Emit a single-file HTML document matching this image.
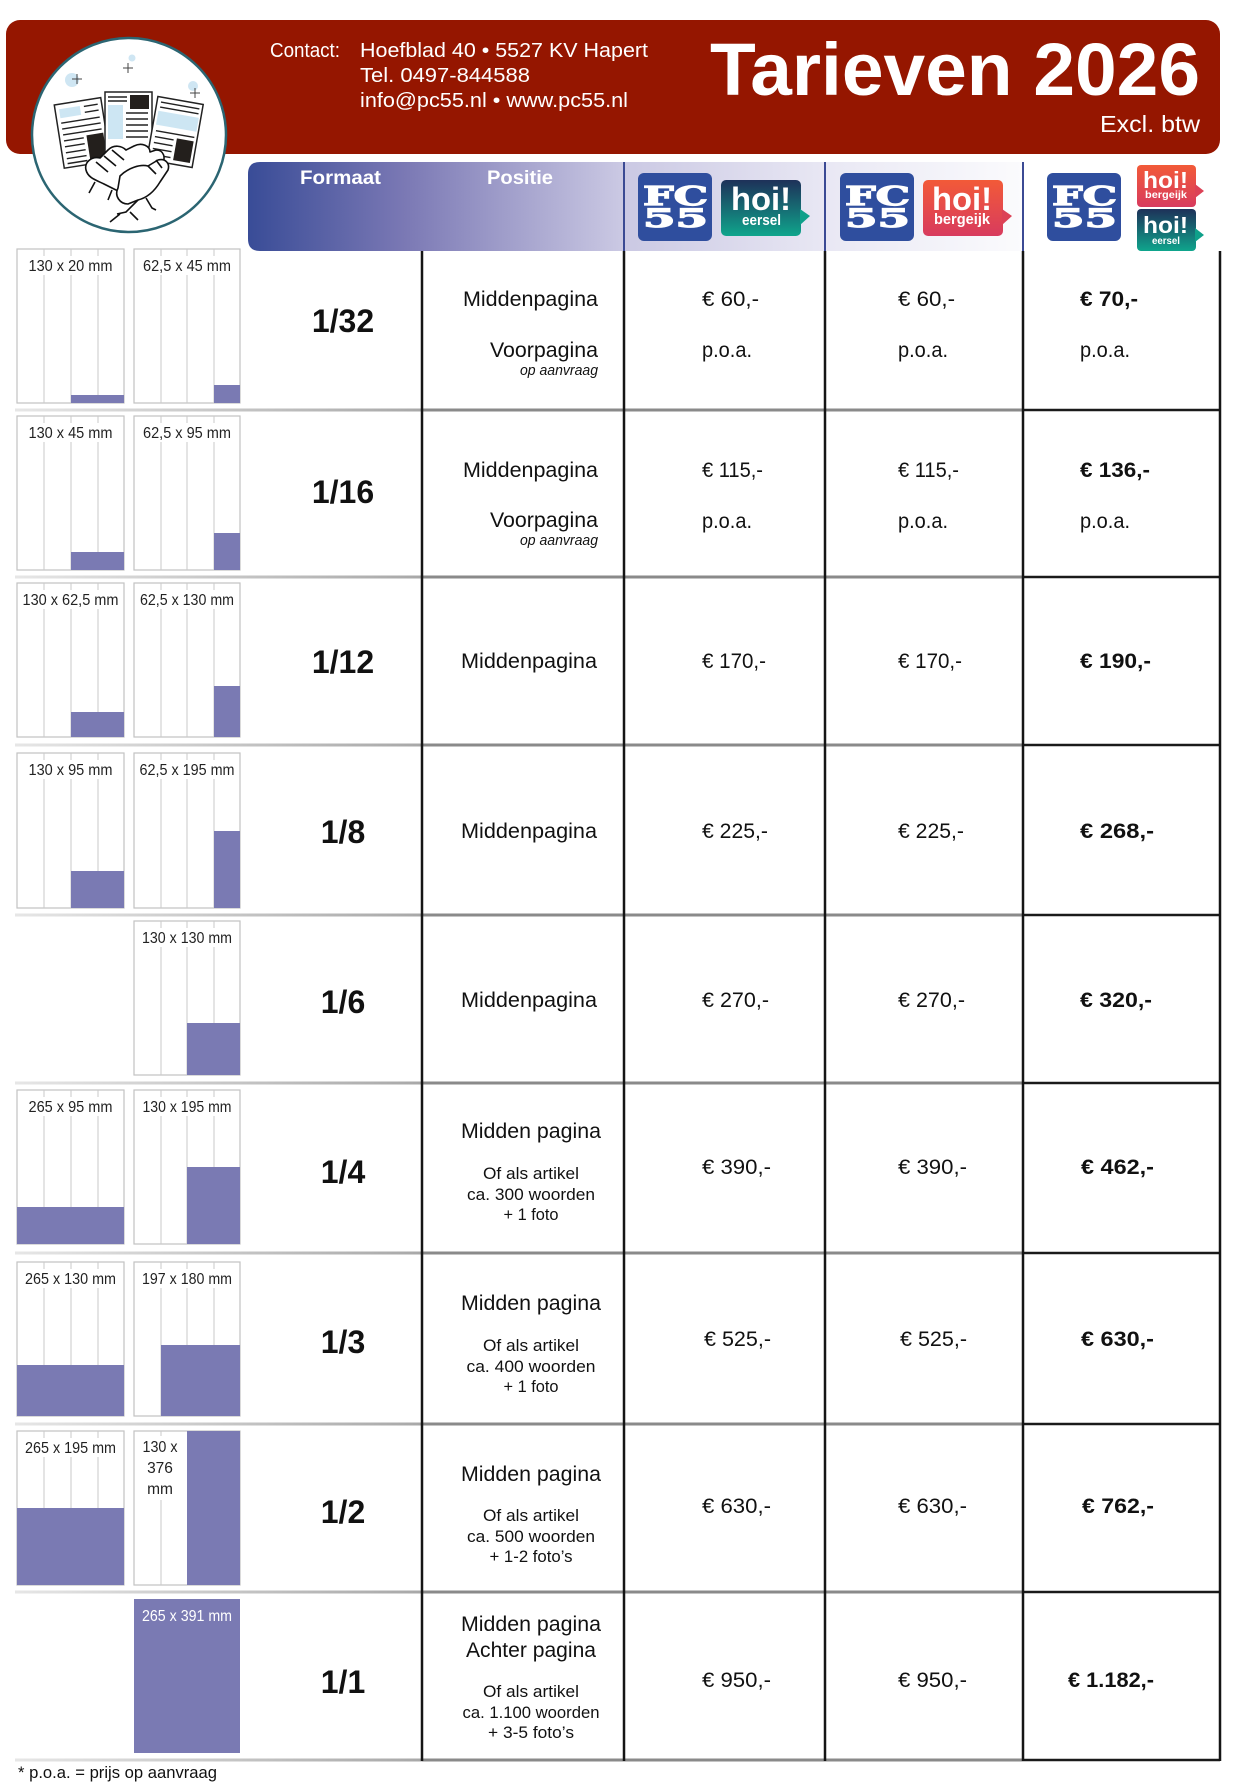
<!DOCTYPE html>
<html><head><meta charset="utf-8"><title>Tarieven 2026</title>
<style>
html,body{margin:0;padding:0;background:#fff;}
svg{display:block;}
text{font-family:"Liberation Sans",Arial,sans-serif;}
.fc{font-family:"DejaVu Serif","Liberation Serif",serif;font-weight:bold;fill:#fff;stroke:#fff;stroke-width:1.2;}
</style></head>
<body>
<svg width="1250" height="1786" viewBox="0 0 1250 1786" xmlns="http://www.w3.org/2000/svg">
<defs>
  <linearGradient id="hdr" gradientUnits="userSpaceOnUse" x1="248" y1="0" x2="1023" y2="0">
    <stop offset="0" stop-color="#394c97"/>
    <stop offset="0.2" stop-color="#7a78b4"/>
    <stop offset="0.48" stop-color="#cac8e3"/>
    <stop offset="0.75" stop-color="#e9e8f4"/>
    <stop offset="1" stop-color="#fbfbfd"/>
  </linearGradient>
  <linearGradient id="hl" gradientUnits="userSpaceOnUse" x1="15" y1="0" x2="422" y2="0">
    <stop offset="0" stop-color="#e6e6e6"/>
    <stop offset="1" stop-color="#a8a8a8"/>
  </linearGradient>
  <linearGradient id="teal" x1="0" y1="0" x2="0" y2="1">
    <stop offset="0" stop-color="#1e3159"/>
    <stop offset="1" stop-color="#0fa58c"/>
  </linearGradient>
  <linearGradient id="red" x1="0" y1="0" x2="0" y2="1">
    <stop offset="0" stop-color="#f25a38"/>
    <stop offset="1" stop-color="#d83b5e"/>
  </linearGradient>
</defs>

<!-- Red banner -->
<rect x="6" y="20" width="1214" height="134" rx="14" fill="#951600"/>
<text x="270" y="57" font-size="20" fill="#fff" textLength="70" lengthAdjust="spacingAndGlyphs">Contact:</text>
<text x="360" y="57" font-size="20" fill="#fff" textLength="288" lengthAdjust="spacingAndGlyphs">Hoefblad 40 • 5527 KV  Hapert</text>
<text x="360" y="82" font-size="20" fill="#fff" textLength="170" lengthAdjust="spacingAndGlyphs">Tel. 0497-844588</text>
<text x="360" y="107" font-size="20" fill="#fff" textLength="268" lengthAdjust="spacingAndGlyphs">info@pc55.nl • www.pc55.nl</text>
<text x="710" y="95" font-size="74" font-weight="bold" fill="#fff" textLength="490" lengthAdjust="spacingAndGlyphs">Tarieven 2026</text>
<text x="1100" y="132" font-size="23" fill="#fff" textLength="100" lengthAdjust="spacingAndGlyphs">Excl. btw</text>

<!-- Circle logo -->
<circle cx="129" cy="135" r="97" fill="#fff" stroke="#2b6572" stroke-width="2.5"/>
<circle cx="72" cy="80" r="7" fill="#cfe6f3"/>
<circle cx="132" cy="58" r="3.5" fill="#cfe6f3"/>
<circle cx="193" cy="86" r="5" fill="#cfe6f3"/>
<g stroke="#444" stroke-width="1">
  <path d="M77,74 V84 M72,79 H82"/>
  <path d="M128,63 V73 M123,68 H133"/>
  <path d="M195,88 V98 M190,93 H200"/>
</g>
<g transform="rotate(-9 82 133)">
  <rect x="59" y="101" width="47" height="64" fill="#fff" stroke="#222" stroke-width="1.5"/>
  <rect x="63" y="106" width="21" height="9" fill="#cde6f3"/>
  <g stroke="#222" stroke-width="1.4">
    <path d="M88,107 H102 M88,113 H102 M63,120 H102 M63,126 H102 M63,132 H102 M63,138 H83 M63,144 H83 M63,150 H83 M63,156 H83 M63,161 H83"/>
  </g>
  <rect x="86" y="136" width="17" height="25" fill="#231f1c"/>
</g>
<rect x="105" y="92" width="47" height="60" fill="#fff" stroke="#222" stroke-width="1.5"/>
<rect x="130" y="95" width="19" height="14" fill="#231f1c"/>
<rect x="108" y="105" width="15" height="34" fill="#cde6f3"/>
<g stroke="#222" stroke-width="1.4">
  <path d="M108,97 H127 M108,101 H127 M126,113 H148 M126,119 H148 M126,125 H148 M126,131 H148 M126,137 H148"/>
</g>
<g transform="rotate(10 175 132)">
  <rect x="152" y="100" width="46" height="64" fill="#fff" stroke="#222" stroke-width="1.5"/>
  <rect x="155" y="114" width="41" height="14" fill="#cde6f3"/>
  <g stroke="#222" stroke-width="1.4">
    <path d="M156,105 H195 M156,110 H195 M156,134 H195 M156,140 H175 M156,146 H175 M156,152 H175 M156,158 H175"/>
  </g>
  <rect x="178" y="138" width="17" height="22" fill="#231f1c"/>
</g>
<!-- hands -->
<g fill="#fff" stroke="#111" stroke-width="1.6" stroke-linejoin="round">
  <path d="M86,170 C84,162 92,156 100,158 L108,150 C114,144 122,146 126,150 L134,146 C142,142 150,146 150,152 L156,150 C164,150 166,158 162,164 L150,180 C142,190 128,194 116,190 L104,184 C96,180 88,178 86,170 Z"/>
  <path d="M120,176 C128,168 140,164 148,166 L158,160 C166,158 170,164 168,170 L160,182 C154,192 146,198 138,200 L128,204 C120,204 114,196 118,188 Z"/>
  <path d="M96,162 L108,172 M104,156 L116,166 M112,150 L124,160"/>
  <path d="M148,166 L156,174 M156,160 L162,168"/>
</g>
<g stroke="#111" stroke-width="1.6" fill="none">
  <path d="M95,182 L89,193 M112,190 L108,200"/>
  <path d="M138,200 L126,212 L117,214 M146,198 L152,208 L156,210 M130,212 L138,220 M120,214 L110,222"/>
</g>

<!-- Header gradient bar -->
<path d="M260,162 H1023 V251 H260 Q248,251 248,239 V174 Q248,162 260,162 Z" fill="url(#hdr)"/>
<text x="300" y="184" font-size="19" font-weight="bold" fill="#fff" textLength="81" lengthAdjust="spacingAndGlyphs">Formaat</text>
<text x="487" y="184" font-size="19" font-weight="bold" fill="#fff" textLength="66" lengthAdjust="spacingAndGlyphs">Positie</text>
<g stroke="#3b4a94" stroke-width="2">
  <line x1="624" y1="162" x2="624" y2="251"/>
  <line x1="825" y1="162" x2="825" y2="251"/>
  <line x1="1023" y1="162" x2="1023" y2="251"/>
</g>

<!-- Logos col1 -->
<rect x="638" y="173" width="74" height="68" rx="6" fill="#2f4e9e"/>
<text class="fc" x="643" y="205" font-size="26" textLength="65" lengthAdjust="spacingAndGlyphs">FC</text>
<text class="fc" x="643" y="227" font-size="25" textLength="65" lengthAdjust="spacingAndGlyphs">55</text>
<rect x="721" y="180" width="80" height="56" rx="5" fill="url(#teal)"/>
<path d="M800,209 L810,216 L800,225 Z" fill="#0fa08a"/>
<text x="731" y="210" font-size="32" font-weight="bold" fill="#fff" textLength="60" lengthAdjust="spacingAndGlyphs">hoi!</text>
<text x="761.5" y="225" font-size="15" font-weight="bold" fill="#fff" text-anchor="middle" textLength="39" lengthAdjust="spacingAndGlyphs">eersel</text>

<!-- Logos col2 -->
<rect x="840" y="173" width="74" height="68" rx="6" fill="#2f4e9e"/>
<text class="fc" x="845" y="205" font-size="26" textLength="65" lengthAdjust="spacingAndGlyphs">FC</text>
<text class="fc" x="845" y="227" font-size="25" textLength="65" lengthAdjust="spacingAndGlyphs">55</text>
<rect x="923" y="180" width="80" height="56" rx="5" fill="url(#red)"/>
<path d="M1002,209 L1012,216 L1002,225 Z" fill="#dc4256"/>
<text x="932" y="210" font-size="32" font-weight="bold" fill="#fff" textLength="60" lengthAdjust="spacingAndGlyphs">hoi!</text>
<text x="962" y="224" font-size="15" font-weight="bold" fill="#fff" text-anchor="middle" textLength="56" lengthAdjust="spacingAndGlyphs">bergeijk</text>

<!-- Logos col3 -->
<rect x="1047" y="173" width="74" height="68" rx="6" fill="#2f4e9e"/>
<text class="fc" x="1052" y="205" font-size="26" textLength="65" lengthAdjust="spacingAndGlyphs">FC</text>
<text class="fc" x="1052" y="227" font-size="25" textLength="65" lengthAdjust="spacingAndGlyphs">55</text>
<rect x="1137" y="165" width="59" height="42" rx="4" fill="url(#red)"/>
<path d="M1195,184 L1204,191 L1195,198 Z" fill="#dc4256"/>
<text x="1143" y="188" font-size="23" font-weight="bold" fill="#fff" textLength="45" lengthAdjust="spacingAndGlyphs">hoi!</text>
<text x="1166" y="198" font-size="10" font-weight="bold" fill="#fff" text-anchor="middle" textLength="42" lengthAdjust="spacingAndGlyphs">bergeijk</text>
<rect x="1137" y="209" width="59" height="42" rx="4" fill="url(#teal)"/>
<path d="M1195,228 L1204,235 L1195,242 Z" fill="#0fa08a"/>
<text x="1143" y="233" font-size="23" font-weight="bold" fill="#fff" textLength="45" lengthAdjust="spacingAndGlyphs">hoi!</text>
<text x="1166" y="244" font-size="10" font-weight="bold" fill="#fff" text-anchor="middle" textLength="28" lengthAdjust="spacingAndGlyphs">eersel</text>

<!-- Horizontal row lines -->
<g stroke-width="3">
  <g stroke="url(#hl)">
    <line x1="15" y1="410" x2="422" y2="410"/><line x1="15" y1="577" x2="422" y2="577"/>
    <line x1="15" y1="745" x2="422" y2="745"/><line x1="15" y1="915" x2="422" y2="915"/>
    <line x1="15" y1="1083" x2="422" y2="1083"/><line x1="15" y1="1253" x2="422" y2="1253"/>
    <line x1="15" y1="1424" x2="422" y2="1424"/><line x1="15" y1="1592" x2="422" y2="1592"/>
    <line x1="15" y1="1760" x2="422" y2="1760"/>
  </g>
  <g stroke="#8a8a8a">
    <line x1="422" y1="410" x2="1023" y2="410"/><line x1="422" y1="577" x2="1023" y2="577"/>
    <line x1="422" y1="745" x2="1023" y2="745"/><line x1="422" y1="915" x2="1023" y2="915"/>
    <line x1="422" y1="1083" x2="1023" y2="1083"/><line x1="422" y1="1253" x2="1023" y2="1253"/>
    <line x1="422" y1="1424" x2="1023" y2="1424"/><line x1="422" y1="1592" x2="1023" y2="1592"/>
    <line x1="422" y1="1760" x2="1023" y2="1760"/>
  </g>
  <g stroke="#1a1a1a" stroke-width="2.5">
    <line x1="1023" y1="410" x2="1220" y2="410"/><line x1="1023" y1="577" x2="1220" y2="577"/>
    <line x1="1023" y1="745" x2="1220" y2="745"/><line x1="1023" y1="915" x2="1220" y2="915"/>
    <line x1="1023" y1="1083" x2="1220" y2="1083"/><line x1="1023" y1="1253" x2="1220" y2="1253"/>
    <line x1="1023" y1="1424" x2="1220" y2="1424"/><line x1="1023" y1="1592" x2="1220" y2="1592"/>
    <line x1="1023" y1="1760" x2="1220" y2="1760"/>
  </g>
</g>
<!-- Vertical lines -->
<g stroke="#151515" stroke-width="2.5">
  <line x1="422" y1="251" x2="422" y2="1761"/>
  <line x1="624" y1="251" x2="624" y2="1761"/>
  <line x1="825" y1="251" x2="825" y2="1761"/>
  <line x1="1023" y1="251" x2="1023" y2="1761"/>
  <line x1="1220" y1="251" x2="1220" y2="1761"/>
</g>

<!-- Thumbnails -->
<g id="thumbs">
<!-- R1 -->
<rect x="17" y="249" width="107" height="154" fill="#fff" stroke="#c2c2c2" stroke-width="1.2"/>
<path d="M44,249 V403 M71,249 V403 M98,249 V403" stroke="#cacaca" stroke-width="1"/>
<rect x="71" y="395" width="53" height="8" fill="#7a7ab3"/>
<rect x="26" y="256" width="89" height="19" fill="#fff"/>
<text x="70.5" y="271" font-size="15.5" fill="#222" text-anchor="middle" textLength="84" lengthAdjust="spacingAndGlyphs">130 x 20 mm</text>
<rect x="134" y="249" width="106" height="154" fill="#fff" stroke="#c2c2c2" stroke-width="1.2"/>
<path d="M161,249 V403 M187,249 V403 M214,249 V403" stroke="#cacaca" stroke-width="1"/>
<rect x="214" y="385" width="26" height="18" fill="#7a7ab3"/>
<rect x="141" y="256" width="93" height="19" fill="#fff"/>
<text x="187" y="271" font-size="15.5" fill="#222" text-anchor="middle" textLength="88" lengthAdjust="spacingAndGlyphs">62,5 x 45 mm</text>
<!-- R2 -->
<rect x="17" y="416" width="107" height="154" fill="#fff" stroke="#c2c2c2" stroke-width="1.2"/>
<path d="M44,416 V570 M71,416 V570 M98,416 V570" stroke="#cacaca" stroke-width="1"/>
<rect x="71" y="552" width="53" height="18" fill="#7a7ab3"/>
<rect x="26" y="423" width="89" height="19" fill="#fff"/>
<text x="70.5" y="438" font-size="15.5" fill="#222" text-anchor="middle" textLength="84" lengthAdjust="spacingAndGlyphs">130 x 45 mm</text>
<rect x="134" y="416" width="106" height="154" fill="#fff" stroke="#c2c2c2" stroke-width="1.2"/>
<path d="M161,416 V570 M187,416 V570 M214,416 V570" stroke="#cacaca" stroke-width="1"/>
<rect x="214" y="533" width="26" height="37" fill="#7a7ab3"/>
<rect x="141" y="423" width="93" height="19" fill="#fff"/>
<text x="187" y="438" font-size="15.5" fill="#222" text-anchor="middle" textLength="88" lengthAdjust="spacingAndGlyphs">62,5 x 95 mm</text>
<!-- R3 -->
<rect x="17" y="583" width="107" height="154" fill="#fff" stroke="#c2c2c2" stroke-width="1.2"/>
<path d="M44,583 V737 M71,583 V737 M98,583 V737" stroke="#cacaca" stroke-width="1"/>
<rect x="71" y="712" width="53" height="25" fill="#7a7ab3"/>
<rect x="21" y="590" width="99" height="19" fill="#fff"/>
<text x="70.5" y="605" font-size="15.5" fill="#222" text-anchor="middle" textLength="96" lengthAdjust="spacingAndGlyphs">130 x 62,5 mm</text>
<rect x="134" y="583" width="106" height="154" fill="#fff" stroke="#c2c2c2" stroke-width="1.2"/>
<path d="M161,583 V737 M187,583 V737 M214,583 V737" stroke="#cacaca" stroke-width="1"/>
<rect x="214" y="686" width="26" height="51" fill="#7a7ab3"/>
<rect x="138" y="590" width="98" height="19" fill="#fff"/>
<text x="187" y="605" font-size="15.5" fill="#222" text-anchor="middle" textLength="94" lengthAdjust="spacingAndGlyphs">62,5 x 130 mm</text>
<!-- R4 -->
<rect x="17" y="753" width="107" height="155" fill="#fff" stroke="#c2c2c2" stroke-width="1.2"/>
<path d="M44,753 V908 M71,753 V908 M98,753 V908" stroke="#cacaca" stroke-width="1"/>
<rect x="71" y="871" width="53" height="37" fill="#7a7ab3"/>
<rect x="26" y="760" width="89" height="19" fill="#fff"/>
<text x="70.5" y="775" font-size="15.5" fill="#222" text-anchor="middle" textLength="84" lengthAdjust="spacingAndGlyphs">130 x 95 mm</text>
<rect x="134" y="753" width="106" height="155" fill="#fff" stroke="#c2c2c2" stroke-width="1.2"/>
<path d="M161,753 V908 M187,753 V908 M214,753 V908" stroke="#cacaca" stroke-width="1"/>
<rect x="214" y="831" width="26" height="77" fill="#7a7ab3"/>
<rect x="138" y="760" width="98" height="19" fill="#fff"/>
<text x="187" y="775" font-size="15.5" fill="#222" text-anchor="middle" textLength="95" lengthAdjust="spacingAndGlyphs">62,5 x 195 mm</text>
<!-- R5 -->
<rect x="134" y="921" width="106" height="154" fill="#fff" stroke="#c2c2c2" stroke-width="1.2"/>
<path d="M161,921 V1075 M187,921 V1075 M214,921 V1075" stroke="#cacaca" stroke-width="1"/>
<rect x="187" y="1023" width="53" height="52" fill="#7a7ab3"/>
<rect x="140" y="928" width="94" height="19" fill="#fff"/>
<text x="187" y="943" font-size="15.5" fill="#222" text-anchor="middle" textLength="90" lengthAdjust="spacingAndGlyphs">130 x 130 mm</text>
<!-- R6 -->
<rect x="17" y="1090" width="107" height="154" fill="#fff" stroke="#c2c2c2" stroke-width="1.2"/>
<path d="M44,1090 V1244 M71,1090 V1244 M98,1090 V1244" stroke="#cacaca" stroke-width="1"/>
<rect x="17" y="1207" width="107" height="37" fill="#7a7ab3"/>
<rect x="26" y="1097" width="89" height="19" fill="#fff"/>
<text x="70.5" y="1112" font-size="15.5" fill="#222" text-anchor="middle" textLength="84" lengthAdjust="spacingAndGlyphs">265 x 95 mm</text>
<rect x="134" y="1090" width="106" height="154" fill="#fff" stroke="#c2c2c2" stroke-width="1.2"/>
<path d="M161,1090 V1244 M187,1090 V1244 M214,1090 V1244" stroke="#cacaca" stroke-width="1"/>
<rect x="187" y="1167" width="53" height="77" fill="#7a7ab3"/>
<rect x="140" y="1097" width="94" height="19" fill="#fff"/>
<text x="187" y="1112" font-size="15.5" fill="#222" text-anchor="middle" textLength="89" lengthAdjust="spacingAndGlyphs">130 x 195 mm</text>
<!-- R7 -->
<rect x="17" y="1262" width="107" height="154" fill="#fff" stroke="#c2c2c2" stroke-width="1.2"/>
<path d="M44,1262 V1416 M71,1262 V1416 M98,1262 V1416" stroke="#cacaca" stroke-width="1"/>
<rect x="17" y="1365" width="107" height="51" fill="#7a7ab3"/>
<rect x="23" y="1269" width="95" height="19" fill="#fff"/>
<text x="70.5" y="1284" font-size="15.5" fill="#222" text-anchor="middle" textLength="91" lengthAdjust="spacingAndGlyphs">265 x 130 mm</text>
<rect x="134" y="1262" width="106" height="154" fill="#fff" stroke="#c2c2c2" stroke-width="1.2"/>
<path d="M161,1262 V1416 M187,1262 V1416 M214,1262 V1416" stroke="#cacaca" stroke-width="1"/>
<rect x="161" y="1345" width="79" height="71" fill="#7a7ab3"/>
<rect x="140" y="1269" width="94" height="19" fill="#fff"/>
<text x="187" y="1284" font-size="15.5" fill="#222" text-anchor="middle" textLength="90" lengthAdjust="spacingAndGlyphs">197 x 180 mm</text>
<!-- R8 -->
<rect x="17" y="1431" width="107" height="154" fill="#fff" stroke="#c2c2c2" stroke-width="1.2"/>
<path d="M44,1431 V1585 M71,1431 V1585 M98,1431 V1585" stroke="#cacaca" stroke-width="1"/>
<rect x="17" y="1508" width="107" height="77" fill="#7a7ab3"/>
<rect x="23" y="1438" width="95" height="19" fill="#fff"/>
<text x="70.5" y="1453" font-size="15.5" fill="#222" text-anchor="middle" textLength="91" lengthAdjust="spacingAndGlyphs">265 x 195 mm</text>
<rect x="134" y="1431" width="106" height="154" fill="#fff" stroke="#c2c2c2" stroke-width="1.2"/>
<path d="M161,1431 V1585" stroke="#cacaca" stroke-width="1"/>
<rect x="187" y="1431" width="53" height="154" fill="#7a7ab3"/>
<rect x="138" y="1436" width="45" height="64" fill="#fff"/>
<text x="160" y="1452" font-size="15.5" fill="#222" text-anchor="middle" textLength="35" lengthAdjust="spacingAndGlyphs">130 x</text>
<text x="160" y="1473" font-size="15.5" fill="#222" text-anchor="middle">376</text>
<text x="160" y="1494" font-size="15.5" fill="#222" text-anchor="middle">mm</text>
<!-- R9 -->
<rect x="134" y="1599" width="106" height="154" fill="#7a7ab3"/>
<text x="187" y="1621" font-size="15.5" fill="#fff" text-anchor="middle" textLength="90" lengthAdjust="spacingAndGlyphs">265 x 391 mm</text>
</g>

<!-- Fractions -->
<g font-size="32" font-weight="bold" fill="#111" text-anchor="middle">
  <text x="343" y="332">1/32</text>
  <text x="343" y="503">1/16</text>
  <text x="343" y="673">1/12</text>
  <text x="343" y="843">1/8</text>
  <text x="343" y="1013">1/6</text>
  <text x="343" y="1183">1/4</text>
  <text x="343" y="1353">1/3</text>
  <text x="343" y="1523">1/2</text>
  <text x="343" y="1693">1/1</text>
</g>

<!-- Position column -->
<g font-size="21" fill="#111">
  <text x="598" y="306" text-anchor="end" textLength="135" lengthAdjust="spacingAndGlyphs">Middenpagina</text>
  <text x="598" y="357" text-anchor="end" textLength="108" lengthAdjust="spacingAndGlyphs">Voorpagina</text>
  <text x="598" y="375" text-anchor="end" font-size="15" font-style="italic" textLength="78" lengthAdjust="spacingAndGlyphs">op aanvraag</text>
  <text x="598" y="477" text-anchor="end" textLength="135" lengthAdjust="spacingAndGlyphs">Middenpagina</text>
  <text x="598" y="527" text-anchor="end" textLength="108" lengthAdjust="spacingAndGlyphs">Voorpagina</text>
  <text x="598" y="545" text-anchor="end" font-size="15" font-style="italic" textLength="78" lengthAdjust="spacingAndGlyphs">op aanvraag</text>
  <text x="597" y="668" text-anchor="end" textLength="136" lengthAdjust="spacingAndGlyphs">Middenpagina</text>
  <text x="597" y="838" text-anchor="end" textLength="136" lengthAdjust="spacingAndGlyphs">Middenpagina</text>
  <text x="597" y="1007" text-anchor="end" textLength="136" lengthAdjust="spacingAndGlyphs">Middenpagina</text>

  <text x="531" y="1138" text-anchor="middle" textLength="140" lengthAdjust="spacingAndGlyphs">Midden pagina</text>
  <text x="531" y="1179" text-anchor="middle" font-size="17" textLength="96" lengthAdjust="spacingAndGlyphs">Of als artikel</text>
  <text x="531" y="1200" text-anchor="middle" font-size="17" textLength="128" lengthAdjust="spacingAndGlyphs">ca. 300 woorden</text>
  <text x="531" y="1220" text-anchor="middle" font-size="17" textLength="55" lengthAdjust="spacingAndGlyphs">+ 1 foto</text>

  <text x="531" y="1310" text-anchor="middle" textLength="140" lengthAdjust="spacingAndGlyphs">Midden pagina</text>
  <text x="531" y="1351" text-anchor="middle" font-size="17" textLength="96" lengthAdjust="spacingAndGlyphs">Of als artikel</text>
  <text x="531" y="1372" text-anchor="middle" font-size="17" textLength="129" lengthAdjust="spacingAndGlyphs">ca. 400 woorden</text>
  <text x="531" y="1392" text-anchor="middle" font-size="17" textLength="55" lengthAdjust="spacingAndGlyphs">+ 1 foto</text>

  <text x="531" y="1481" text-anchor="middle" textLength="140" lengthAdjust="spacingAndGlyphs">Midden pagina</text>
  <text x="531" y="1521" text-anchor="middle" font-size="17" textLength="96" lengthAdjust="spacingAndGlyphs">Of als artikel</text>
  <text x="531" y="1542" text-anchor="middle" font-size="17" textLength="128" lengthAdjust="spacingAndGlyphs">ca. 500 woorden</text>
  <text x="531" y="1562" text-anchor="middle" font-size="17" textLength="83" lengthAdjust="spacingAndGlyphs">+ 1-2 foto’s</text>

  <text x="531" y="1631" text-anchor="middle" textLength="140" lengthAdjust="spacingAndGlyphs">Midden pagina</text>
  <text x="531" y="1657" text-anchor="middle" textLength="130" lengthAdjust="spacingAndGlyphs">Achter pagina</text>
  <text x="531" y="1697" text-anchor="middle" font-size="17" textLength="96" lengthAdjust="spacingAndGlyphs">Of als artikel</text>
  <text x="531" y="1718" text-anchor="middle" font-size="17" textLength="137" lengthAdjust="spacingAndGlyphs">ca. 1.100 woorden</text>
  <text x="531" y="1738" text-anchor="middle" font-size="17" textLength="86" lengthAdjust="spacingAndGlyphs">+ 3-5 foto’s</text>
</g>

<!-- Prices -->
<g font-size="21" fill="#111">
  <text x="702" y="306" textLength="57" lengthAdjust="spacingAndGlyphs">€ 60,-</text>
  <text x="898" y="306" textLength="57" lengthAdjust="spacingAndGlyphs">€ 60,-</text>
  <text x="1080" y="306" font-weight="bold" textLength="58" lengthAdjust="spacingAndGlyphs">€ 70,-</text>
  <text x="702" y="357" textLength="50" lengthAdjust="spacingAndGlyphs">p.o.a.</text>
  <text x="898" y="357" textLength="50" lengthAdjust="spacingAndGlyphs">p.o.a.</text>
  <text x="1080" y="357" textLength="50" lengthAdjust="spacingAndGlyphs">p.o.a.</text>

  <text x="702" y="477" textLength="61" lengthAdjust="spacingAndGlyphs">€ 115,-</text>
  <text x="898" y="477" textLength="61" lengthAdjust="spacingAndGlyphs">€ 115,-</text>
  <text x="1080" y="477" font-weight="bold" textLength="70" lengthAdjust="spacingAndGlyphs">€ 136,-</text>
  <text x="702" y="528" textLength="50" lengthAdjust="spacingAndGlyphs">p.o.a.</text>
  <text x="898" y="528" textLength="50" lengthAdjust="spacingAndGlyphs">p.o.a.</text>
  <text x="1080" y="528" textLength="50" lengthAdjust="spacingAndGlyphs">p.o.a.</text>

  <text x="702" y="668" textLength="64" lengthAdjust="spacingAndGlyphs">€ 170,-</text>
  <text x="898" y="668" textLength="64" lengthAdjust="spacingAndGlyphs">€ 170,-</text>
  <text x="1080" y="668" font-weight="bold" textLength="71" lengthAdjust="spacingAndGlyphs">€ 190,-</text>

  <text x="702" y="838" textLength="66" lengthAdjust="spacingAndGlyphs">€ 225,-</text>
  <text x="898" y="838" textLength="66" lengthAdjust="spacingAndGlyphs">€ 225,-</text>
  <text x="1080" y="838" font-weight="bold" textLength="74" lengthAdjust="spacingAndGlyphs">€ 268,-</text>

  <text x="702" y="1007" textLength="67" lengthAdjust="spacingAndGlyphs">€ 270,-</text>
  <text x="898" y="1007" textLength="67" lengthAdjust="spacingAndGlyphs">€ 270,-</text>
  <text x="1080" y="1007" font-weight="bold" textLength="72" lengthAdjust="spacingAndGlyphs">€ 320,-</text>

  <text x="702" y="1174" textLength="69" lengthAdjust="spacingAndGlyphs">€ 390,-</text>
  <text x="898" y="1174" textLength="69" lengthAdjust="spacingAndGlyphs">€ 390,-</text>
  <text x="1081" y="1174" font-weight="bold" textLength="73" lengthAdjust="spacingAndGlyphs">€ 462,-</text>

  <text x="704" y="1346" textLength="67" lengthAdjust="spacingAndGlyphs">€ 525,-</text>
  <text x="900" y="1346" textLength="67" lengthAdjust="spacingAndGlyphs">€ 525,-</text>
  <text x="1081" y="1346" font-weight="bold" textLength="73" lengthAdjust="spacingAndGlyphs">€ 630,-</text>

  <text x="702" y="1513" textLength="69" lengthAdjust="spacingAndGlyphs">€ 630,-</text>
  <text x="898" y="1513" textLength="69" lengthAdjust="spacingAndGlyphs">€ 630,-</text>
  <text x="1082" y="1513" font-weight="bold" textLength="72" lengthAdjust="spacingAndGlyphs">€ 762,-</text>

  <text x="702" y="1687" textLength="69" lengthAdjust="spacingAndGlyphs">€ 950,-</text>
  <text x="898" y="1687" textLength="69" lengthAdjust="spacingAndGlyphs">€ 950,-</text>
  <text x="1068" y="1687" font-weight="bold" textLength="86" lengthAdjust="spacingAndGlyphs">€ 1.182,-</text>
</g>

<!-- Footer -->
<text x="18" y="1778" font-size="17" fill="#111" textLength="199" lengthAdjust="spacingAndGlyphs">* p.o.a. = prijs op aanvraag</text>
</svg>
</body></html>
